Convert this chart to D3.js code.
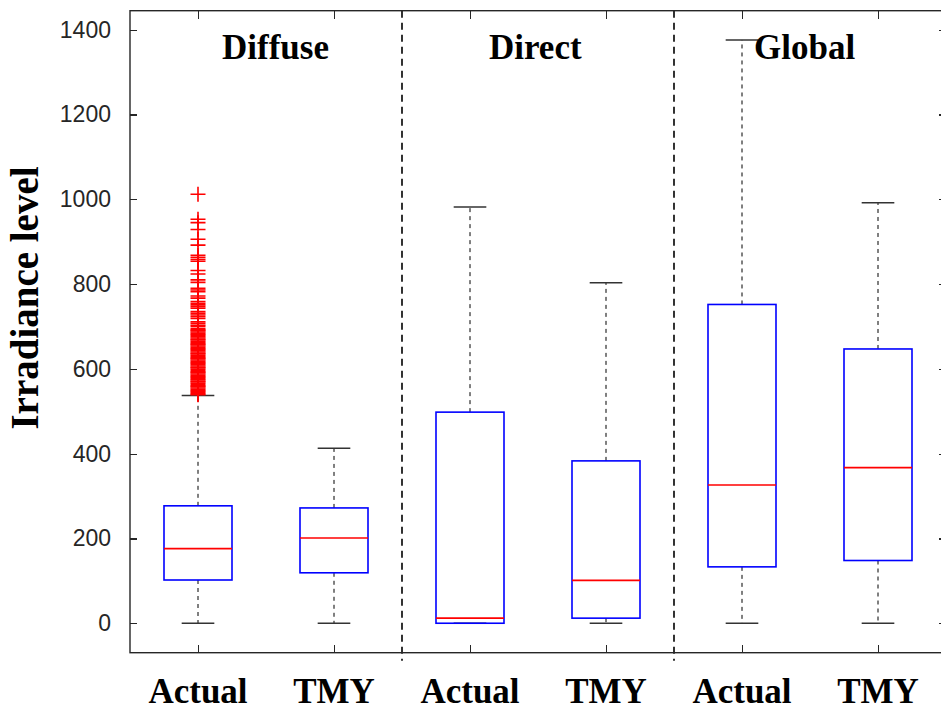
<!DOCTYPE html>
<html lang="en">
<head>
    <meta charset="UTF-8">
    <title>Irradiance boxplot</title>
    <script src="https://d3js.org/d3.v7.min.js"></script>
    <style>
        body { margin: 0; background: #fff; }
        .axis text {
            font-family: "Liberation Sans", Arial, sans-serif;
            font-size: 23px;
            fill: #262626;
        }
        .axis path, .axis line {
            stroke: #262626;
            stroke-width: 1.2px;
            shape-rendering: crispEdges;
        }
        .serif {
            font-family: "Liberation Serif", "Times New Roman", serif;
            font-weight: bold;
            font-size: 35px;
            fill: #000;
        }
    </style>
</head>
<body>
    <svg width="941" height="711"></svg>

    <script>
        // box position labels and group titles
        const categories = ['Actual', 'TMY', 'Actual', 'TMY', 'Actual', 'TMY'];
        const groups = ['Diffuse', 'Direct', 'Global'];
        const groupLabelPos = [1.57, 3.48, 5.46];
        const dividers = [2.5, 4.5];

        // box statistics
        const lowWhisker = [0, 0, 0, 0, 0, 0];
        const q1 = [102, 119, 0, 12, 133, 148];
        const median = [176, 201, 12, 101, 326, 367];
        const q3 = [277, 272, 498, 383, 752, 647];
        const highWhisker = [537, 413, 982, 803, 1376, 992];

        // outliers of the Diffuse / Actual box
        const diffuseOutliers = [
            1012, 953, 945, 929, 906, 892, 868, 863, 858, 854, 832, 824, 810, 804,
            790, 786, 782, 772, 767, 759, 755, 751, 747, 743, 735, 731, 727, 723, 719,
            711, 707, 703, 700, 695, 692, 690, 687, 684, 681, 679, 676, 673, 670, 668,
            665, 662, 659, 657, 654, 651, 648, 646, 643, 640, 637, 635, 632, 629, 626,
            624, 621, 618, 615, 613, 610, 607, 604, 602, 599, 596, 593, 591, 588, 585,
            582, 580, 577, 574, 571, 569, 566, 563, 560, 558, 555, 552, 549, 547, 544,
            541, 539
        ];

        const yTicks = [0, 200, 400, 600, 800, 1000, 1200, 1400];

        const svg = d3.select('svg');
        const plotLeft = 130, plotRight = 946, plotTop = 10.7, plotBottom = 652.7;

        const x = d3.scaleLinear().domain([0.5, 6.5]).range([plotLeft, plotRight]);
        const y = d3.scaleLinear().domain([-69.5, 1445]).range([plotBottom, plotTop]);

        const boxHalf = 0.25, capHalf = 0.12;

        const data = categories.map((c, i) => ({
            pos: i + 1,
            lo: lowWhisker[i], q1: q1[i], med: median[i], q3: q3[i], hi: highWhisker[i]
        }));

        // group dividers
        svg.selectAll('.divider')
            .data(dividers)
            .enter().append('line')
            .attr('x1', d => x(d)).attr('x2', d => x(d))
            .attr('y1', plotTop).attr('y2', plotBottom + 8)
            .attr('stroke', '#000')
            .attr('stroke-width', 1.6)
            .attr('stroke-dasharray', '7,5');

        const box = svg.selectAll('.box')
            .data(data)
            .enter().append('g');

        // whiskers
        box.append('line')
            .attr('x1', d => x(d.pos)).attr('x2', d => x(d.pos))
            .attr('y1', d => y(d.q3)).attr('y2', d => y(d.hi))
            .attr('stroke', '#000').attr('stroke-width', 1)
            .attr('stroke-dasharray', '4,4');
        box.append('line')
            .attr('x1', d => x(d.pos)).attr('x2', d => x(d.pos))
            .attr('y1', d => y(d.q1)).attr('y2', d => y(d.lo))
            .attr('stroke', '#000').attr('stroke-width', 1)
            .attr('stroke-dasharray', '4,4');

        // outliers (drawn before caps)
        svg.selectAll('.outlier')
            .data(diffuseOutliers)
            .enter().append('path')
            .attr('d', d => {
                const cx = x(1), cy = y(d), r = 7.5;
                return `M${cx - r},${cy}H${cx + r}M${cx},${cy - r}V${cy + r}`;
            })
            .attr('stroke', '#ff0000')
            .attr('stroke-width', 1.6)
            .attr('fill', 'none');

        // caps
        ['lo', 'hi'].forEach(k => {
            box.append('line')
                .attr('x1', d => x(d.pos - capHalf)).attr('x2', d => x(d.pos + capHalf))
                .attr('y1', d => y(d[k])).attr('y2', d => y(d[k]))
                .attr('stroke', '#333').attr('stroke-width', 1.5);
        });

        // boxes
        box.append('rect')
            .attr('x', d => x(d.pos - boxHalf))
            .attr('width', d => x(d.pos + boxHalf) - x(d.pos - boxHalf))
            .attr('y', d => y(d.q3))
            .attr('height', d => y(d.q1) - y(d.q3))
            .attr('fill', 'none')
            .attr('stroke', '#0000ff')
            .attr('stroke-width', 1.6);

        // medians
        box.append('line')
            .attr('x1', d => x(d.pos - boxHalf)).attr('x2', d => x(d.pos + boxHalf))
            .attr('y1', d => y(d.med)).attr('y2', d => y(d.med))
            .attr('stroke', '#ff0000').attr('stroke-width', 1.6);

        // axes (MATLAB style box, ticks inside)
        const yAxis = svg.append('g').attr('class', 'axis')
            .attr('transform', `translate(${plotLeft},0)`)
            .call(d3.axisLeft(y).tickValues(yTicks).tickFormat(d3.format('d'))
                .tickSizeInner(-7).tickSizeOuter(0).tickPadding(19));
        yAxis.select('.domain').remove();

        svg.append('g').attr('class', 'axis')
            .attr('transform', `translate(${plotRight},0)`)
            .call(d3.axisRight(y).tickValues(yTicks).tickSizeInner(-7).tickSizeOuter(0).tickFormat(''))
            .select('.domain').remove();

        svg.append('g').attr('class', 'axis')
            .attr('transform', `translate(0,${plotBottom})`)
            .call(d3.axisBottom(x).tickValues(d3.range(1, 7)).tickSizeInner(-8).tickSizeOuter(0).tickFormat(''))
            .select('.domain').remove();

        svg.append('g').attr('class', 'axis')
            .attr('transform', `translate(0,${plotTop})`)
            .call(d3.axisTop(x).tickValues(d3.range(1, 7)).tickSizeInner(-8).tickSizeOuter(0).tickFormat(''))
            .select('.domain').remove();

        svg.append('rect')
            .attr('x', plotLeft).attr('y', plotTop)
            .attr('width', plotRight - plotLeft).attr('height', plotBottom - plotTop)
            .attr('fill', 'none')
            .attr('stroke', '#262626')
            .attr('stroke-width', 1.4);

        // category labels
        svg.selectAll('.cat')
            .data(categories)
            .enter().append('text')
            .attr('class', 'serif')
            .attr('x', (d, i) => x(i + 1))
            .attr('y', 703)
            .attr('text-anchor', 'middle')
            .text(d => d);

        // group titles
        svg.selectAll('.group')
            .data(groups)
            .enter().append('text')
            .attr('class', 'serif')
            .attr('x', (d, i) => x(groupLabelPos[i]))
            .attr('y', 59)
            .attr('text-anchor', 'middle')
            .text(d => d);

        // y label
        svg.append('text')
            .attr('class', 'serif')
            .style('font-size', '39px')
            .attr('transform', 'translate(38,298) rotate(-90)')
            .attr('text-anchor', 'middle')
            .text('Irradiance level');
    </script>
</body>
</html>
